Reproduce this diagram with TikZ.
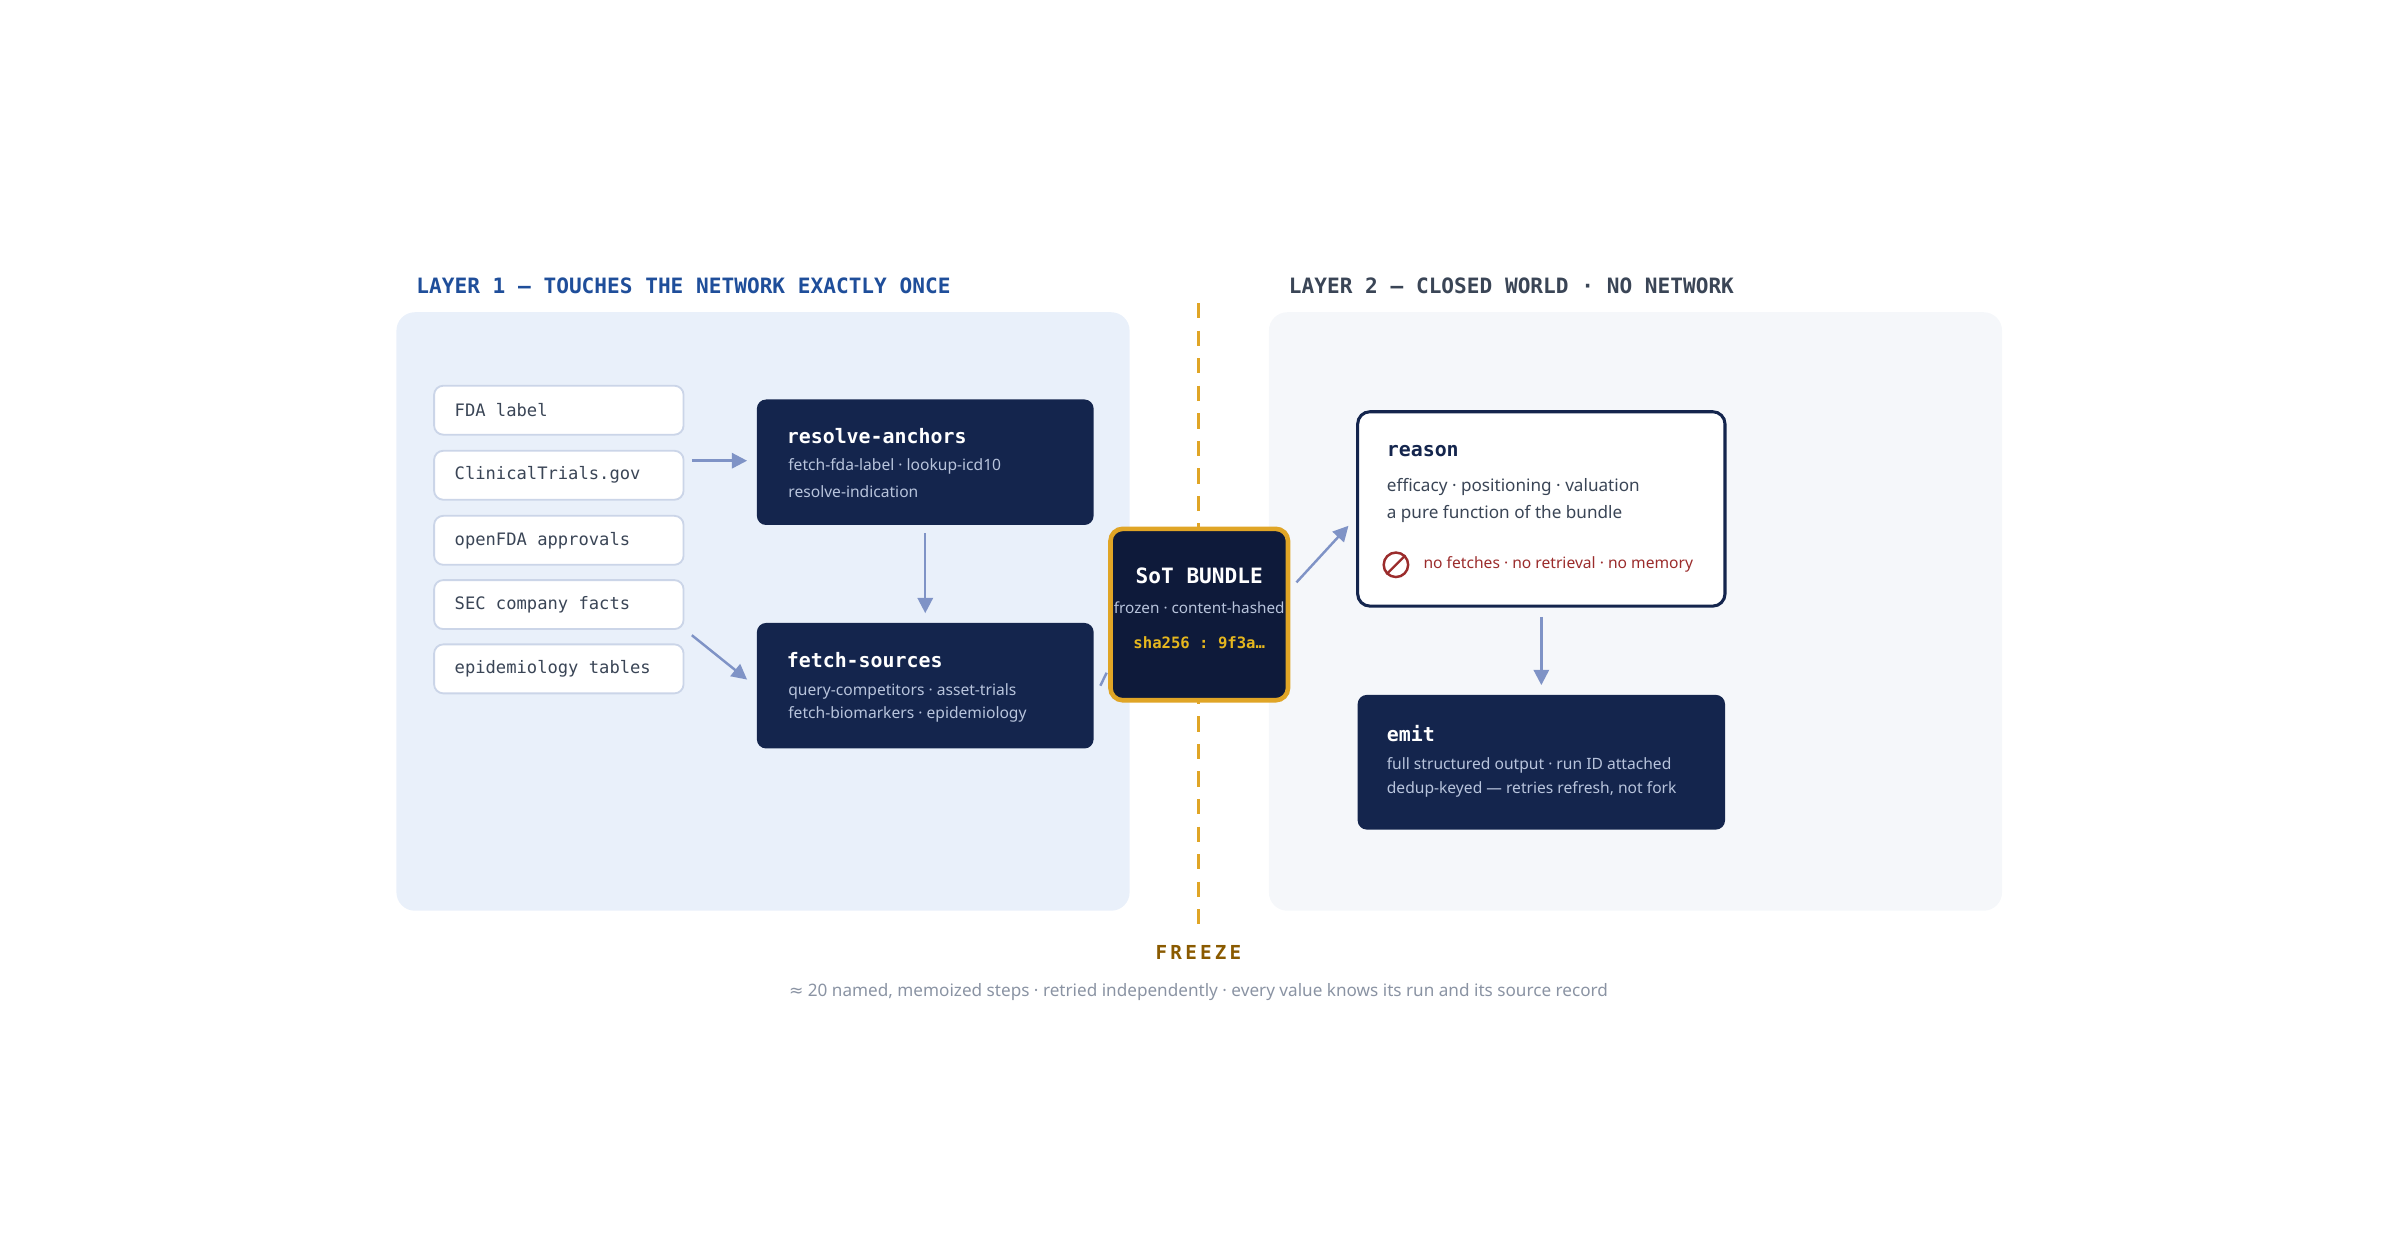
\documentclass[tikz,border=0pt]{standalone}
\usepackage{fontspec}
\setmainfont{Noto Sans}
\setmonofont{DejaVu Sans Mono}
\newfontfamily\symfont{DejaVu Sans}
\usetikzlibrary{arrows.meta,positioning}
\definecolor{navy}{HTML}{14254D}
\definecolor{bundlebg}{HTML}{0E1A3A}
\definecolor{panelA}{HTML}{E9F0FA}
\definecolor{panelB}{HTML}{F5F7FA}
\definecolor{titleA}{HTML}{1F4E9A}
\definecolor{titleB}{HTML}{3A4556}
\definecolor{freeze}{HTML}{E0A526}
\definecolor{arrowc}{HTML}{7F93C6}
\definecolor{subtext}{HTML}{B8C4DC}
\definecolor{redc}{HTML}{9B2C2C}
\definecolor{brown}{HTML}{8A5A00}
\definecolor{foot}{HTML}{8A93A3}
\definecolor{srcline}{HTML}{CBD5E8}
\tikzset{
  panel/.style={rounded corners=6pt,minimum width=239.5pt,minimum height=195.5pt},
  src/.style={draw=srcline,fill=white,rounded corners=3pt,line width=0.6pt,minimum width=81.5pt,minimum height=16pt,anchor=west},
  srctext/.style={font=\ttfamily\fontsize{5.6}{6}\selectfont,text=titleB,anchor=west},
  stepbox/.style={fill=navy,rounded corners=3pt,minimum width=110pt,minimum height=41pt},
  steptitle/.style={font=\ttfamily\bfseries\fontsize{6.5}{7}\selectfont,text=white,anchor=west},
  stepline/.style={font=\fontsize{5.1}{6}\selectfont,text=subtext,anchor=west},
  flow/.style={arrowc,line width=0.8pt,-{Triangle[length=5pt,width=5pt]}},
  layertitle/.style={font=\ttfamily\bfseries\fontsize{6.9}{8}\selectfont,anchor=west}
}
\begin{document}
\begin{tikzpicture}[x=0.5pt,y=-0.5pt]
\useasboundingbox (0,0) rectangle (1568,823);

% panels
\node[panel,fill=panelA] (p1) at (498.5,399.5) {};
\node[panel,fill=panelB] (p2) at (1068.5,399.5) {};
\node[layertitle,text=titleA] (t1) at (265,187) {LAYER 1 — TOUCHES THE NETWORK EXACTLY ONCE};
\node[layertitle,text=titleB] (t2) at (835,187) {LAYER 2 — CLOSED WORLD · NO NETWORK};

% freeze line
\coordinate (fz1) at (783,198);
\coordinate (fz2) at (783,607);
\draw[freeze,line width=1.2pt,dash pattern=on 5pt off 4pt] (fz1) -- (fz2);

% sources
\node[src] (s1) at (283,268) {};
\node[src] (s2) at (283,310.5) {};
\node[src] (s3) at (283,353) {};
\node[src] (s4) at (283,395) {};
\node[src] (s5) at (283,437) {};
\node[srctext] at (290,268) {FDA label};
\node[srctext] at (290,310.5) {ClinicalTrials.gov};
\node[srctext] at (290,353) {openFDA approvals};
\node[srctext] at (290,395) {SEC company facts};
\node[srctext] at (290,437) {epidemiology tables};

% layer 1 steps
\node[stepbox] (ra) at (604.5,302) {};
\node[steptitle] at (507,285) {resolve-anchors};
\node[stepline] at (508,305) {fetch-fda-label · lookup-icd10};
\node[stepline] at (508,321) {resolve-indication};

\node[stepbox] (fs) at (604.5,448) {};
\node[steptitle] at (507,431) {fetch-sources};
\node[stepline] at (508,452) {query-competitors · asset-trials};
\node[stepline] at (508,467) {fetch-biomarkers · epidemiology};

\coordinate (a1) at (452,301);
\coordinate (a2) at (452,415);
\draw[flow] (a1) -- ([xshift=-3pt]ra.west |- a1);
\draw[flow] (a2) -- ([xshift=-3pt,yshift=2pt]fs.west);
\draw[flow] ([yshift=-2.5pt]ra.south) -- ([yshift=3pt]fs.north);

% bundle
\node[fill=bundlebg,draw=freeze,line width=1.5pt,rounded corners=4pt,minimum width=58pt,minimum height=56pt] (sot) at (783.5,401.5) {};
\node[font=\ttfamily\bfseries\fontsize{6.9}{8}\selectfont,text=white] at (783.5,376) {SoT BUNDLE};
\node[font=\fontsize{5}{6}\selectfont,text=subtext] at (783.5,397) {frozen · content-hashed};
\node[font=\ttfamily\bfseries\fontsize{5.1}{6}\selectfont,text=freeze!80!yellow] at (783.5,420) {sha256 : 9f3a…};
\draw[arrowc,line width=0.8pt] ([xshift=2pt]fs.east) -- ([xshift=-0.5pt,yshift=-19pt]sot.west);

% layer 2 steps
\node[fill=white,draw=navy,line width=1pt,rounded corners=4pt,minimum width=120pt,minimum height=63.5pt] (rs) at (1007,332.5) {};
\node[steptitle,text=navy] at (899,295) {reason};
\node[font=\fontsize{5.6}{6}\selectfont,text=titleB,anchor=west] at (899,318) {efficacy · positioning · valuation};
\node[font=\fontsize{5.6}{6}\selectfont,text=titleB,anchor=west] at (899,336) {a pure function of the bundle};
\node[circle,draw=redc,line width=0.8pt,minimum size=8pt,inner sep=0pt] (nogo) at (912,369) {};
\draw[redc,line width=0.8pt] (nogo.south west) -- (nogo.north east);
\node[font=\fontsize{5.1}{6}\selectfont,text=redc,anchor=west] at (923,369) {no fetches · no retrieval · no memory};

\node[stepbox,minimum width=120pt,minimum height=44pt] (em) at (1007,498) {};
\node[steptitle] at (899,479) {emit};
\node[stepline] at (899,500) {full structured output · run ID attached};
\node[stepline] at (899,516) {dedup-keyed — retries refresh, not fork};

\draw[flow] ([xshift=2pt,yshift=10.5pt]sot.east) -- ([xshift=-2.5pt,yshift=-5.5pt]rs.west);
\draw[flow] ([yshift=-3pt]rs.south) -- ([yshift=3pt]em.north);

% footer
\node[font=\ttfamily\bfseries\fontsize{6.3}{7}\selectfont,text=brown] (fr) at (783,622) {F\,R\,E\,E\,Z\,E};
\node[font=\fontsize{5.6}{6}\selectfont,text=foot] (ft) at (783,648) {{\symfont ≈} 20 named, memoized steps · retried independently · every value knows its run and its source record};
\end{tikzpicture}
\end{document}
